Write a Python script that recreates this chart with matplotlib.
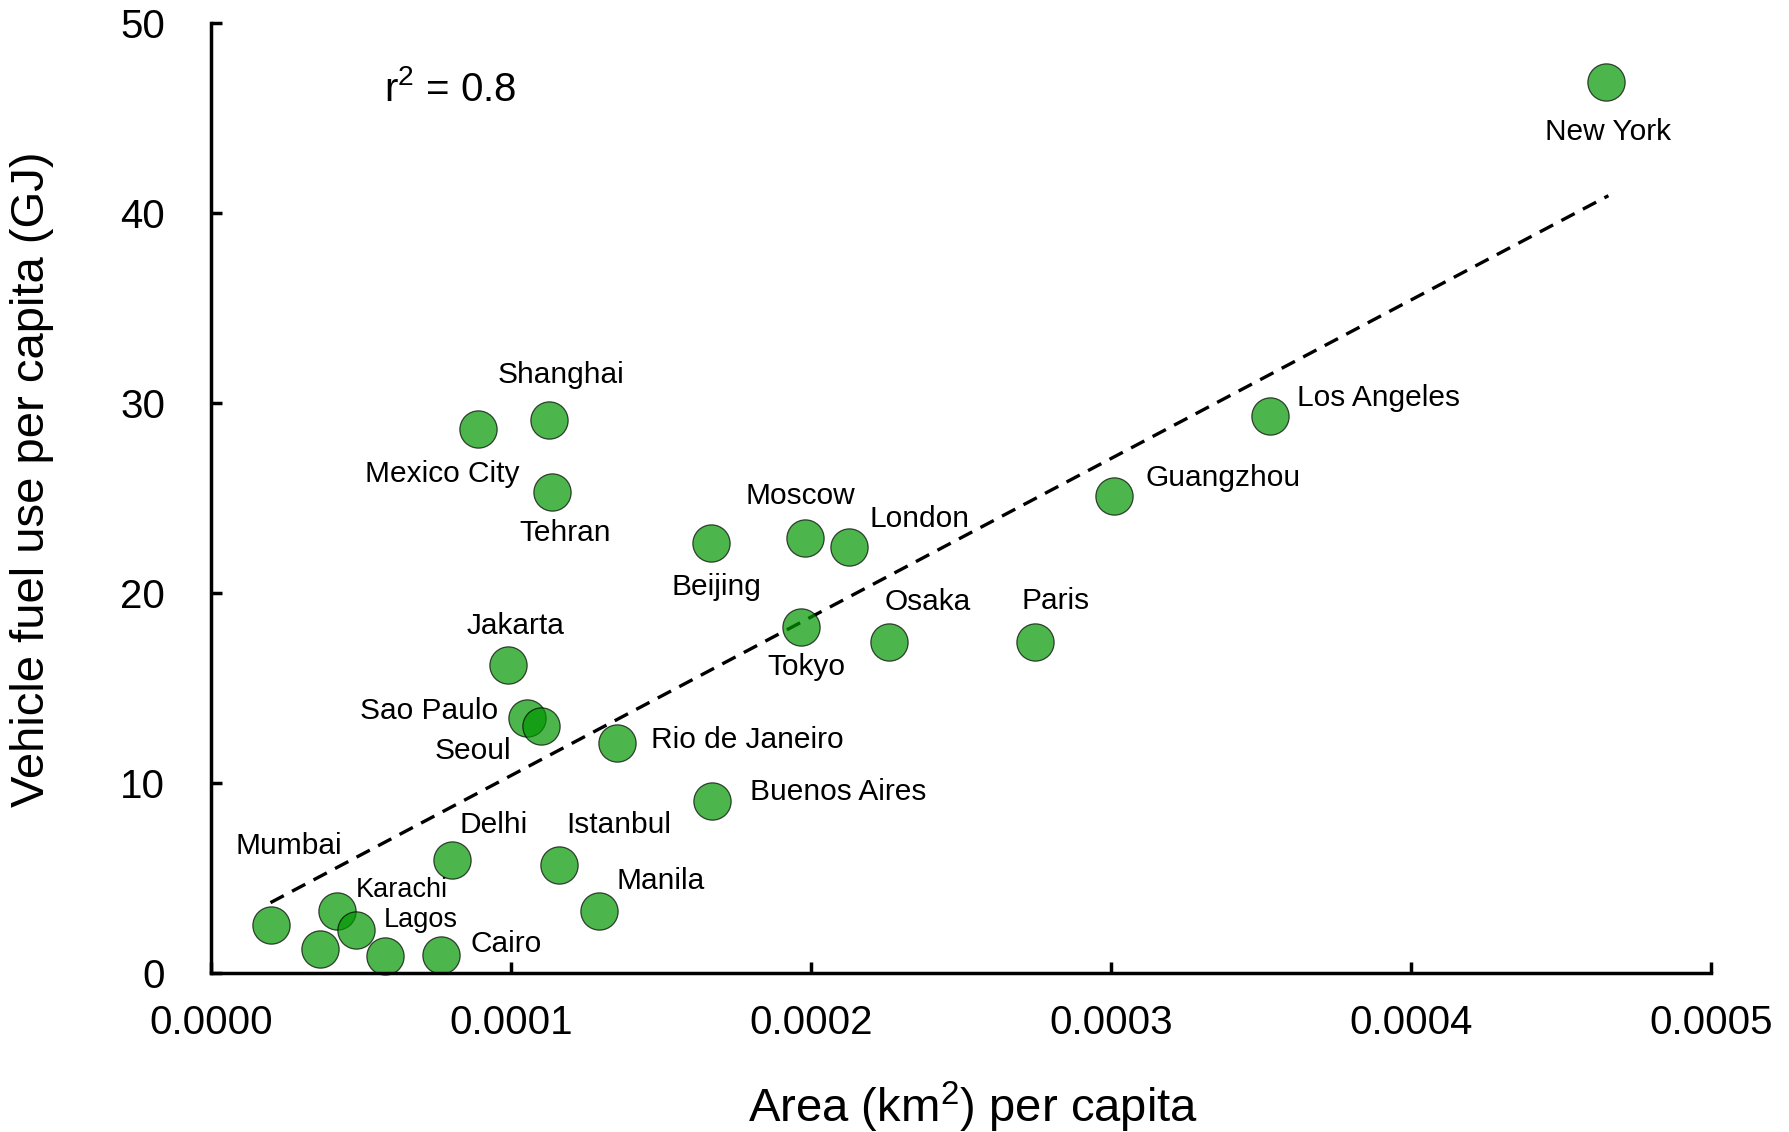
import numpy as np
import matplotlib
matplotlib.use("Agg")
import matplotlib.pyplot as plt
from matplotlib.ticker import FormatStrFormatter

plt.rcParams['font.family'] = ['Liberation Sans', 'DejaVu Sans']
plt.rcParams['mathtext.default'] = 'regular'

# city data
cities = ["New York", "Los Angeles", "Guangzhou", "Paris", "Osaka", "London",
          "Moscow", "Tokyo", "Beijing", "Buenos Aires", "Rio de Janeiro", "Manila",
          "Istanbul", "Shanghai", "Mexico City", "Tehran", "Jakarta", "Sao Paulo",
          "Seoul", "Delhi", "Mumbai", "Karachi", "Lagos", "", "", "Cairo"]
area_per_capita = [4.65e-4, 3.53e-4, 3.01e-4, 2.745e-4, 2.26e-4, 2.125e-4,
                   1.98e-4, 1.966e-4, 1.665e-4, 1.67e-4, 1.354e-4, 1.292e-4,
                   1.161e-4, 1.125e-4, 0.89e-4, 1.137e-4, 0.989e-4, 1.053e-4,
                   1.099e-4, 0.804e-4, 0.201e-4, 0.421e-4, 0.484e-4, 0.362e-4,
                   0.579e-4, 0.766e-4]
fuel_per_capita = [46.9, 29.3, 25.1, 17.4, 17.4, 22.4,
                   22.9, 18.2, 22.6, 9.06, 12.1, 3.28,
                   5.66, 29.1, 28.6, 25.3, 16.2, 13.4,
                   13.0, 5.92, 2.54, 3.24, 2.27, 1.28,
                   0.9, 0.96]
r_squared = 0.8

# trend line as drawn in the chart (end points)
trend_x = [0.198e-4, 4.658e-4]
trend_y = [3.7, 40.9]

x_ticks = [0.0, 0.0001, 0.0002, 0.0003, 0.0004, 0.0005]
y_ticks = [0, 10, 20, 30, 40, 50]

# label placement: (dx, dy) in points, horizontal alignment, font size
label_layout = {
    "New York": (1.6, -36, "center", 21.5),
    "Los Angeles": (19.7, 13, "left", 21.5),
    "Guangzhou": (23, 13, "left", 21.5),
    "Paris": (14.8, 29.6, "center", 21.5),
    "Osaka": (28, 28.8, "center", 21.5),
    "London": (14.8, 20.5, "left", 21.5),
    "Moscow": (-3.3, 30.4, "center", 21.5),
    "Tokyo": (4, -28.8, "center", 21.5),
    "Beijing": (4, -31, "center", 21.5),
    "Buenos Aires": (27, 6.6, "left", 21.5),
    "Rio de Janeiro": (24, 2.5, "left", 21.5),
    "Manila": (13, 21, "left", 21.5),
    "Istanbul": (5, 29, "left", 21.5),
    "Shanghai": (9, 32, "center", 21.5),
    "Mexico City": (-26, -32, "center", 21.5),
    "Tehran": (9, -29.6, "center", 21.5),
    "Jakarta": (5.8, 28, "center", 21.5),
    "Sao Paulo": (-20.5, 5, "right", 21.5),
    "Seoul": (-21, -18, "right", 21.5),
    "Delhi": (5, 25.5, "left", 21.5),
    "Mumbai": (12.3, 56.7, "center", 21.5),
    "Karachi": (13, 15.6, "left", 19.5),
    "Lagos": (20, 7.4, "left", 19.5),
    "Cairo": (21, 7.4, "left", 21.5),
}

x = np.array(area_per_capita)
y = np.array(fuel_per_capita)

fig = plt.figure(figsize=(17.89, 11.32), dpi=100)
ax = fig.add_axes([0.118, 0.1405, 0.8384, 0.8394])

ax.plot(trend_x, trend_y, color="black", linestyle=(0, (4.5, 2.8)),
        linewidth=2.4, zorder=1)

ax.scatter(x, y, s=720, color="#009600", alpha=0.7, edgecolors="black",
           linewidths=0.9, zorder=2, clip_on=False)

for name, xi, yi in zip(cities, x, y):
    if not name:
        continue
    dx, dy, ha, fs = label_layout[name]
    ax.annotate(name, (xi, yi), xytext=(dx, dy), textcoords="offset points",
                ha=ha, va="center", fontsize=fs)

ax.text(0.115, 0.93, "r$^{2}$ = %.1f" % r_squared, transform=ax.transAxes,
        fontsize=29, ha="left", va="center")

ax.set_xlim(0, 0.0005)
ax.set_ylim(0, 50)
ax.set_xticks(x_ticks)
ax.set_yticks(y_ticks)
ax.xaxis.set_major_formatter(FormatStrFormatter("%.4f"))

for side in ["top", "right"]:
    ax.spines[side].set_visible(False)
for side in ["left", "bottom"]:
    ax.spines[side].set_linewidth(2.5)

ax.tick_params(axis="both", direction="in", length=8, width=2.5, labelsize=29)
ax.tick_params(axis="x", pad=22)
ax.tick_params(axis="y", pad=33)

ax.set_xlabel("Area (km$^{2}$) per capita", fontsize=34, va="top")
ax.xaxis.set_label_coords(0.508, -0.113)
ax.set_ylabel("Vehicle fuel use per capita (GJ)", fontsize=34)
ax.yaxis.set_label_coords(-0.105, 0.52)

fig.savefig("out.png", dpi=100)
